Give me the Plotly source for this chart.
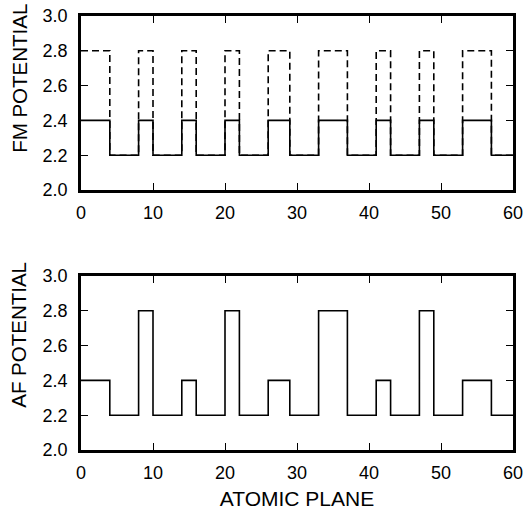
import plotly.graph_objects as go
from plotly.subplots import make_subplots

# Segment boundaries along the atomic-plane axis
plane_edges = [0, 4, 8, 10, 14, 16, 20, 22, 26, 29, 33, 37, 41, 43, 47, 49, 53, 57, 60]

# FM potential: solid (majority) and dashed (minority) step profiles, one value per segment
fm_solid = [2.4, 2.2, 2.4, 2.2, 2.4, 2.2, 2.4, 2.2, 2.4, 2.2, 2.4, 2.2, 2.4, 2.2, 2.4, 2.2, 2.4, 2.2]
fm_dashed = [2.8, 2.2, 2.8, 2.2, 2.8, 2.2, 2.8, 2.2, 2.8, 2.2, 2.8, 2.2, 2.8, 2.2, 2.8, 2.2, 2.8, 2.2]

# AF potential step profile
af_solid = [2.4, 2.2, 2.8, 2.2, 2.4, 2.2, 2.8, 2.2, 2.4, 2.2, 2.8, 2.2, 2.4, 2.2, 2.8, 2.2, 2.4, 2.2]

x_ticks = [0, 10, 20, 30, 40, 50, 60]
y_ticks = [2.0, 2.2, 2.4, 2.6, 2.8, 3.0]
y_tick_text = ["2.0", "2.2", "2.4", "2.6", "2.8", "3.0"]


def steps(vals):
    return vals + [vals[-1]]


fig = make_subplots(rows=2, cols=1, vertical_spacing=0.2)

fig.add_trace(go.Scatter(x=plane_edges, y=steps(fm_dashed), mode="lines", line_shape="hv",
                         line=dict(color="black", width=1.6, dash="7px,4px")), row=1, col=1)
fig.add_trace(go.Scatter(x=plane_edges, y=steps(fm_solid), mode="lines", line_shape="hv",
                         line=dict(color="black", width=1.6)), row=1, col=1)
fig.add_trace(go.Scatter(x=plane_edges, y=steps(af_solid), mode="lines", line_shape="hv",
                         line=dict(color="black", width=1.6)), row=2, col=1)

font_family = "Liberation Sans, Arial, sans-serif"

axis_common = dict(showline=True, linewidth=2.5, linecolor="black", mirror="allticks",
                   ticks="inside", ticklen=7, tickwidth=1.3, tickcolor="black",
                   showgrid=False, zeroline=False, automargin=False,
                   ticklabeloverflow="allow",
                   tickfont=dict(family=font_family, size=18, color="black"))

fig.update_xaxes(range=[0, 60], tickvals=x_ticks, ticklabelstandoff=5, **axis_common)
fig.update_yaxes(range=[2.0, 3.0], tickvals=y_ticks, ticktext=y_tick_text,
                 ticklabelstandoff=7, **axis_common)

title_font = dict(family=font_family, size=20.5, color="black")

fig.update_layout(
    width=524, height=521,
    margin=dict(l=81, r=11, t=16, b=71),
    plot_bgcolor="white", paper_bgcolor="white",
    showlegend=False,
    xaxis=dict(domain=[0, 1]),
    yaxis=dict(domain=[0.599, 1.0]),
    xaxis2=dict(domain=[0, 1],
                title=dict(text="ATOMIC PLANE", standoff=9,
                           font=dict(family=font_family, size=21, color="black"))),
    yaxis2=dict(domain=[0.0, 0.401]),
    annotations=[
        dict(text="FM POTENTIAL", textangle=-90, xref="paper", yref="paper",
             x=-0.144, y=0.857, xanchor="center", yanchor="middle",
             showarrow=False, font=title_font),
        dict(text="AF POTENTIAL", textangle=-90, xref="paper", yref="paper",
             x=-0.144, y=0.265, xanchor="center", yanchor="middle",
             showarrow=False, font=title_font),
    ],
)

# Remove the browser's default 8px body margin so the figure fills the window exactly
fig.write_html("out.html", config={"displayModeBar": False},
               post_script="document.body.style.margin='0px';")
